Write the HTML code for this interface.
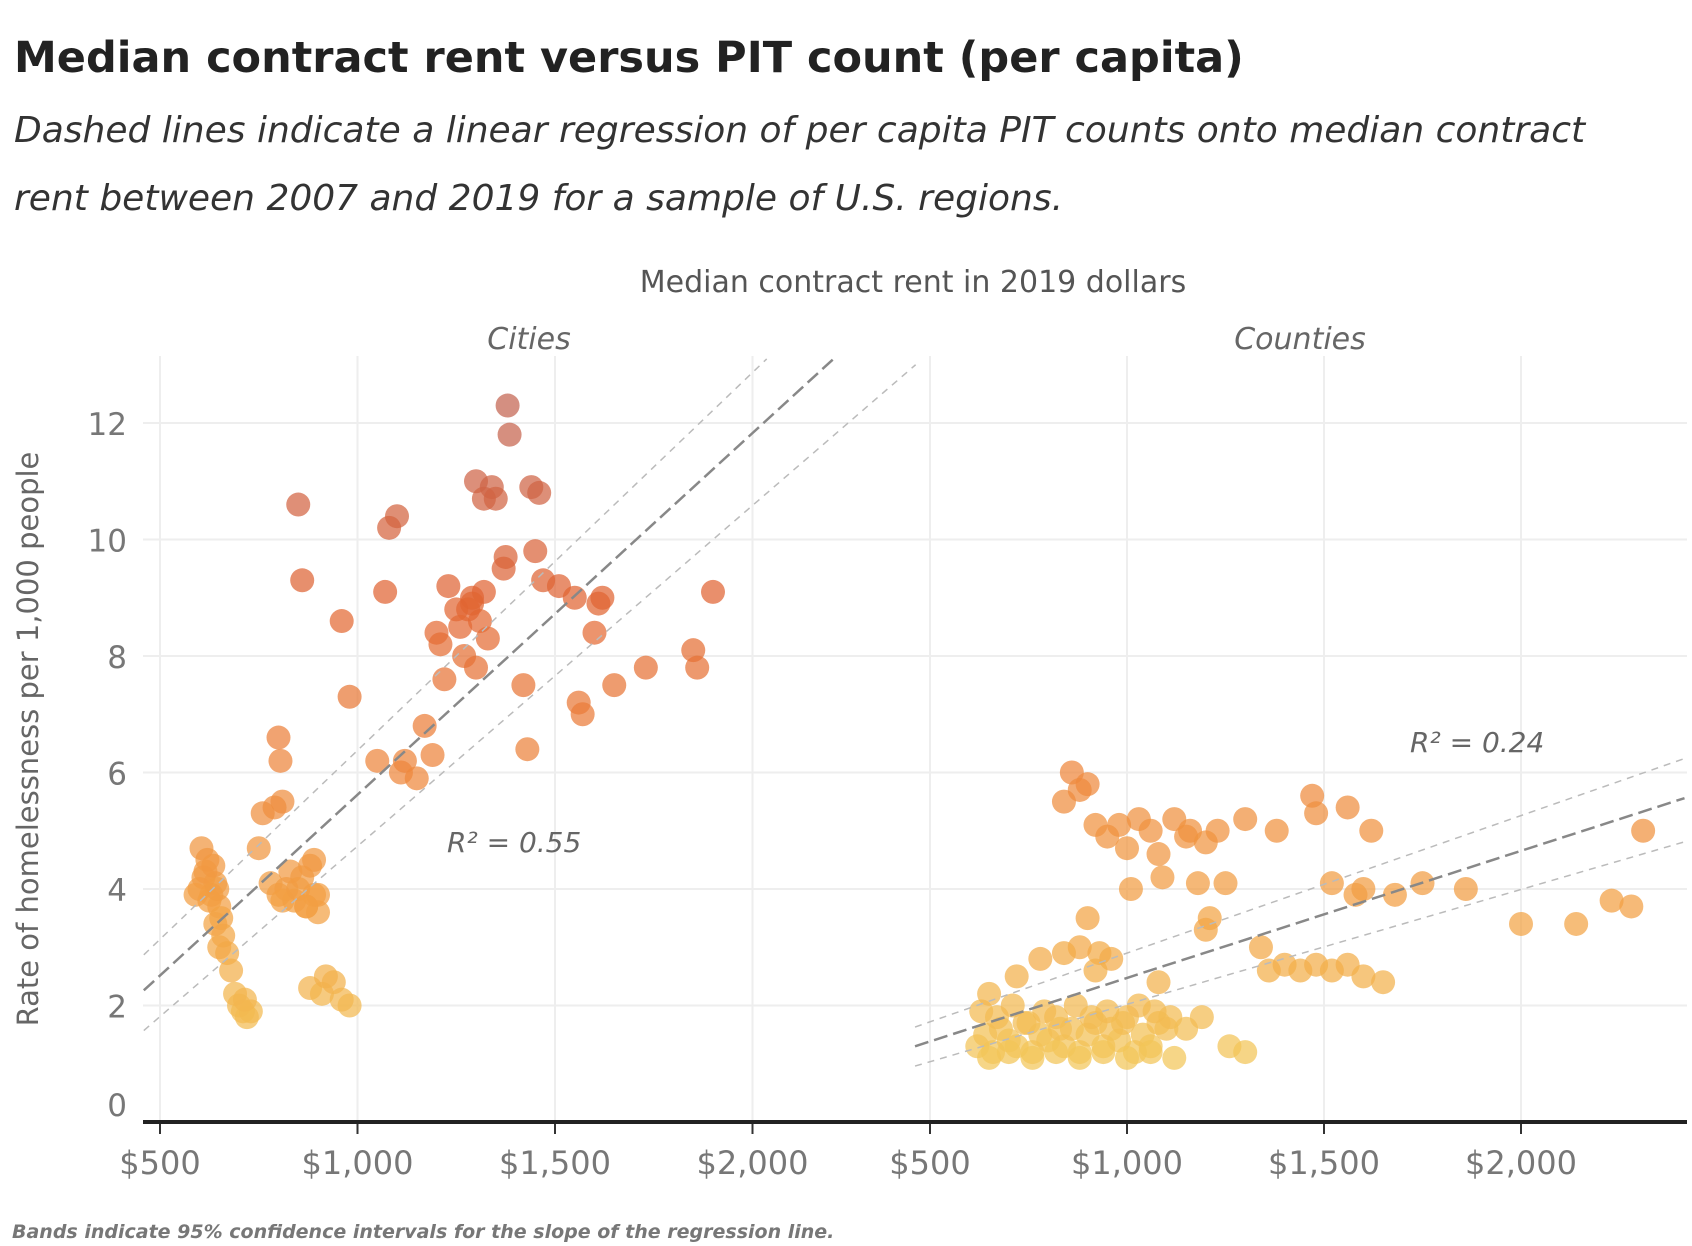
<!DOCTYPE html>
<html><head><meta charset="utf-8">
<style>
body{margin:0;background:#fff;width:1692px;height:1246px;overflow:hidden;font-family:"DejaVu Sans","Liberation Sans",sans-serif;}
svg{position:absolute;left:0;top:0;font-family:"DejaVu Sans","Liberation Sans",sans-serif}
</style></head>
<body>
<svg id="chart" width="1692" height="1246">
<text x="14" y="72" font-size="43" font-weight="bold" fill="#222">Median contract rent versus PIT count (per capita)</text>
<text x="14" y="142" font-size="36" font-style="italic" fill="#333">Dashed lines indicate a linear regression of per capita PIT counts onto median contract</text>
<text x="14" y="210" font-size="36" font-style="italic" fill="#333">rent between 2007 and 2019 for a sample of U.S. regions.</text>
<text x="913" y="292" font-size="30" fill="#555" text-anchor="middle">Median contract rent in 2019 dollars</text>
<text x="529" y="349" font-size="30" font-style="italic" fill="#666" text-anchor="middle">Cities</text>
<text x="1300" y="349" font-size="30" font-style="italic" fill="#666" text-anchor="middle">Counties</text>
<text transform="translate(38,739) rotate(-90)" font-size="29" fill="#666" text-anchor="middle">Rate of homelessness per 1,000 people</text>
<text x="12" y="1238" font-size="19" font-style="italic" font-weight="bold" fill="#777">Bands indicate 95% confidence intervals for the slope of the regression line.</text>
<g id="grid"></g><g id="marks"></g><g id="axes"></g>
</svg>
<script>
const yTicks=[0,2,4,6,8,10,12];
const xTicks=[500,1000,1500,2000];
const xTickLabels=["$500","$1,000","$1,500","$2,000"];
const cityRent=[600,610,620,630,640,650,605,615,625,635,645,655,590,660,670,640,650,680,700,710,720,690,730,715,780,800,820,840,860,870,880,890,900,810,830,850,870,890,900,880,910,920,940,960,980,850,860,960,980,800,805,810,790,760,750,1050,1080,1100,1070,1110,1120,1150,1170,1190,1200,1210,1220,1230,1250,1270,1290,1310,1320,1280,1300,1320,1340,1260,1300,1290,1330,1350,1380,1385,1370,1375,1420,1430,1440,1460,1450,1470,1510,1550,1560,1570,1600,1610,1620,1650,1730,1850,1860,1900];
const cityRate=[4.0,4.2,4.5,3.9,4.1,3.7,4.7,4.3,3.8,4.4,4.0,3.5,3.9,3.2,2.9,3.4,3.0,2.6,2.0,1.9,1.8,2.2,1.9,2.1,4.1,3.9,4.0,3.8,4.2,3.7,4.4,3.9,3.6,3.8,4.3,4.0,3.7,4.5,3.9,2.3,2.2,2.5,2.4,2.1,2.0,10.6,9.3,8.6,7.3,6.6,6.2,5.5,5.4,5.3,4.7,6.2,10.2,10.4,9.1,6.0,6.2,5.9,6.8,6.3,8.4,8.2,7.6,9.2,8.8,8.0,9.0,8.6,9.1,8.8,11.0,10.7,10.9,8.5,7.8,8.9,8.3,10.7,12.3,11.8,9.5,9.7,7.5,6.4,10.9,10.8,9.8,9.3,9.2,9.0,7.2,7.0,8.4,8.9,9.0,7.5,7.8,8.1,7.8,9.1];
const countyRent=[620,640,660,680,700,720,740,760,780,800,820,840,860,880,900,920,940,960,980,1000,1020,1040,1060,1080,1100,630,670,710,750,790,830,870,910,950,990,1030,1070,1110,1150,1190,650,700,760,820,880,940,1000,1060,1120,1260,1300,840,860,880,900,920,950,980,1000,1030,1060,1080,1090,1120,1150,1160,1180,1200,1250,1230,1300,1380,1470,1480,1560,1620,1520,1580,1600,1680,1750,1860,2000,2140,2230,2280,2310,1210,1200,1340,1360,1400,1440,1480,1520,1560,1600,1650,1010,900,930,960,1080,880,920,720,650,840,780];
const countyRate=[1.3,1.5,1.2,1.6,1.4,1.3,1.7,1.2,1.5,1.4,1.8,1.3,1.6,1.2,1.5,1.7,1.3,1.6,1.4,1.8,1.2,1.5,1.3,1.7,1.6,1.9,1.8,2.0,1.7,1.9,1.6,2.0,1.8,1.9,1.7,2.0,1.9,1.8,1.6,1.8,1.1,1.2,1.1,1.2,1.1,1.2,1.1,1.2,1.1,1.3,1.2,5.5,6.0,5.7,5.8,5.1,4.9,5.1,4.7,5.2,5.0,4.6,4.2,5.2,4.9,5.0,4.1,4.8,4.1,5.0,5.2,5.0,5.6,5.3,5.4,5.0,4.1,3.9,4.0,3.9,4.1,4.0,3.4,3.4,3.8,3.7,5.0,3.5,3.3,3.0,2.6,2.7,2.6,2.7,2.6,2.7,2.5,2.4,4.0,3.5,2.9,2.8,2.4,3.0,2.6,2.5,2.2,2.9,2.8];
const cityFit=[[459,2.26],[2205,13.1]];
const cityUpper=[[459,2.87],[2036,13.1]];
const cityLower=[[459,1.57],[2413,13.0]];
const countyFit=[[462,1.30],[2415,5.56]];
const countyUpper=[[462,1.63],[2415,6.24]];
const countyLower=[[462,0.96],[2415,4.81]];
const NS="http://www.w3.org/2000/svg";
const Y0=1122,YS=58.25;
function yScale(v){return Y0-v*YS;}
function xCity(v){return 160+(v-500)*0.395;}
function xCounty(v){return 930+(v-500)*0.394;}
function mk(tag,attrs,parent){const e=document.createElementNS(NS,tag);for(const k in attrs)e.setAttribute(k,attrs[k]);parent.appendChild(e);return e;}
const grid=document.getElementById('grid'),marks=document.getElementById('marks'),axes=document.getElementById('axes');
yTicks.forEach(t=>{
  if(t>0){const l=mk('line',{x1:143,x2:1687,y1:yScale(t),y2:yScale(t),stroke:'#eee','stroke-width':2},grid);
  
  }
  const tx=mk('text',{x:127,y:yScale(t)+(t==0?-6:12),'font-size':31,fill:'#777','text-anchor':'end'},axes);
  tx.textContent=t;
  
  
});
[[xCity,'cities'],[xCounty,'counties']].forEach(([xs,nm])=>{
  xTicks.forEach((t,i)=>{
    const g=mk('line',{x1:xs(t),x2:xs(t),y1:356,y2:Y0,stroke:'#eee','stroke-width':2},grid);
    
    
    mk('line',{x1:xs(t),x2:xs(t),y1:Y0,y2:Y0+12,stroke:'#333','stroke-width':2},axes);
    const tx=mk('text',{x:xs(t),y:Y0+52,'font-size':32,fill:'#777','text-anchor':'middle'},axes);
    tx.textContent=xTickLabels[i];
    
    
  });
});
const ax=mk('line',{x1:143,x2:1687,y1:Y0,y2:Y0,stroke:'#222','stroke-width':4},axes);


function col(r){
  const stops=[[1,[242,200,90]],[3,[243,168,70]],[6,[238,135,60]],[9,[225,100,50]],[12,[196,100,80]]];
  for(let i=0;i<stops.length-1;i++){const[a,ca]=stops[i],[b,cb]=stops[i+1];
    if(r<=b||i==stops.length-2){const f=Math.max(0,Math.min(1,(r-a)/(b-a)));return 'rgb('+ca.map((c,j)=>Math.round(c+(cb[j]-c)*f)).join(',')+')';}}
}
function pts(rent,rate,xs,nm){
  rent.forEach((r,i)=>{
    const c=mk('circle',{cx:xs(r),cy:yScale(rate[i]),r:12,fill:col(rate[i]),'fill-opacity':0.72},marks);
    
    
  });
}
pts(cityRent,cityRate,xCity,'city');
pts(countyRent,countyRate,xCounty,'county');
function line(p,xs,nm,dash,w,colr){
  const l=mk('line',{x1:xs(p[0][0]),y1:yScale(p[0][1]),x2:xs(p[1][0]),y2:yScale(p[1][1]),stroke:colr,'stroke-width':w,'stroke-dasharray':dash},marks);
  
  
}
line(cityFit,xCity,'cities-regression-line','14 6',2.5,'#888');
line(cityUpper,xCity,'cities-upper-band','7 6',1.5,'#bbb');
line(cityLower,xCity,'cities-lower-band','7 6',1.5,'#bbb');
line(countyFit,xCounty,'counties-regression-line','14 6',2.5,'#888');
line(countyUpper,xCounty,'counties-upper-band','7 6',1.5,'#bbb');
line(countyLower,xCounty,'counties-lower-band','7 6',1.5,'#bbb');
</script>
<svg width="1692" height="1246" style="pointer-events:none">
<text x="447" y="852" font-size="28" font-style="italic" fill="#666">R² = 0.55</text>
<text x="1410" y="752" font-size="28" font-style="italic" fill="#666">R² = 0.24</text>
</svg>
</body></html>
